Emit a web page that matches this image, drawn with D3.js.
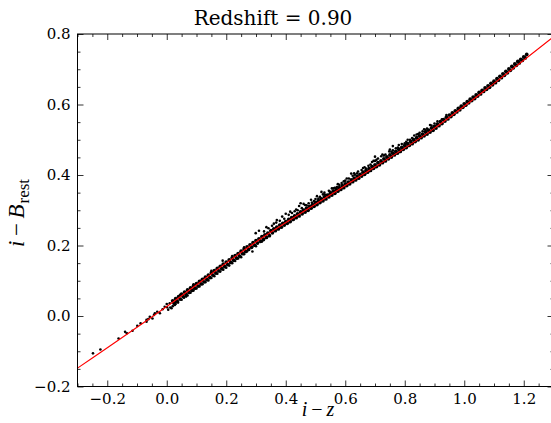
<!DOCTYPE html>
<html><head><meta charset="utf-8">
<script src="https://cdn.jsdelivr.net/npm/d3@7"></script>
<style>html,body{margin:0;padding:0;background:#fff;}svg{display:block;}</style>
</head><body>
<svg id="chart" width="551" height="423"></svg>
<script>
const titleText = "Redshift = 0.90";
const xMajorTicks = [-0.2, 0.0, 0.2, 0.4, 0.6, 0.8, 1.0, 1.2];
const xTickLabels = ["\u22120.2", "0.0", "0.2", "0.4", "0.6", "0.8", "1.0", "1.2"];
const yMajorTicks = [-0.2, 0.0, 0.2, 0.4, 0.6, 0.8];
const yTickLabels = ["\u22120.2", "0.0", "0.2", "0.4", "0.6", "0.8"];
const xMinorTicks = [-0.3,-0.25,-0.15,-0.1,-0.05,0.05,0.1,0.15,0.25,0.3,0.35,0.45,0.5,0.55,0.65,0.7,0.75,0.85,0.9,0.95,1.05,1.1,1.15,1.25,1.3];
const yMinorTicks = [-0.15,-0.1,-0.05,0.05,0.1,0.15,0.25,0.3,0.35,0.45,0.5,0.55,0.65,0.7,0.75];

// red fitted line
const fitX = [-0.3, 0.0, 0.3, 0.6, 0.9, 1.1, 1.3];
const fitY = [-0.148, 0.027, 0.210, 0.370, 0.533, 0.660, 0.792];

// sparse points at negative i-z
const tailPts = [[-0.248,-0.106],[-0.223,-0.095],[-0.162,-0.064],[-0.14,-0.045],[-0.134,-0.049],[-0.115,-0.042],[-0.099,-0.028],[-0.088,-0.021],[-0.068,-0.011],[-0.068,-0.016],[-0.062,-0.009],[-0.057,-0.002],[-0.048,-0.007],[-0.043,0.003],[-0.04,0.008],[-0.032,0.012],[-0.023,0.008],[-0.014,0.019],[-0.007,0.026],[0.001,0.025],[0.0,0.034],[0.01,0.036],[0.016,0.022],[0.021,0.041],[0.027,0.031]];

// dense band, upper edge
const bandUpper = [[0.02,0.043],[0.03,0.049],[0.04,0.055],[0.05,0.062],[0.06,0.068],[0.07,0.074],[0.08,0.080],[0.09,0.086],[0.10,0.092],[0.11,0.098],[0.12,0.104],[0.13,0.110],[0.14,0.116],[0.15,0.123],[0.16,0.129],[0.17,0.135],[0.18,0.141],[0.19,0.147],[0.20,0.153],[0.21,0.159],[0.22,0.165],[0.23,0.171],[0.24,0.177],[0.25,0.184],[0.26,0.190],[0.27,0.196],[0.28,0.202],[0.29,0.208],[0.30,0.214],[0.31,0.219],[0.32,0.225],[0.33,0.230],[0.34,0.235],[0.35,0.242],[0.36,0.247],[0.37,0.252],[0.38,0.258],[0.39,0.263],[0.40,0.268],[0.41,0.274],[0.42,0.279],[0.43,0.284],[0.44,0.290],[0.45,0.295],[0.46,0.300],[0.47,0.306],[0.48,0.311],[0.49,0.316],[0.50,0.322],[0.51,0.327],[0.52,0.332],[0.53,0.338],[0.54,0.343],[0.55,0.348],[0.56,0.354],[0.57,0.359],[0.58,0.364],[0.59,0.370],[0.60,0.375],[0.61,0.380],[0.62,0.386],[0.63,0.391],[0.64,0.397],[0.65,0.402],[0.66,0.408],[0.67,0.413],[0.68,0.418],[0.69,0.424],[0.70,0.429],[0.71,0.435],[0.72,0.440],[0.73,0.446],[0.74,0.451],[0.75,0.457],[0.76,0.462],[0.77,0.467],[0.78,0.473],[0.79,0.478],[0.80,0.484],[0.81,0.489],[0.82,0.495],[0.83,0.500],[0.84,0.506],[0.85,0.511],[0.86,0.516],[0.87,0.522],[0.88,0.527],[0.89,0.533],[0.90,0.538],[0.91,0.544],[0.92,0.551],[0.93,0.557],[0.94,0.564],[0.95,0.570],[0.96,0.576],[0.97,0.582],[0.98,0.589],[0.99,0.595],[1.00,0.602],[1.01,0.608],[1.02,0.615],[1.03,0.621],[1.04,0.627],[1.05,0.634],[1.06,0.640],[1.07,0.647],[1.08,0.653],[1.09,0.660],[1.10,0.666],[1.11,0.673],[1.12,0.680],[1.13,0.687],[1.14,0.694],[1.15,0.701],[1.16,0.708],[1.17,0.715],[1.18,0.722],[1.19,0.728],[1.20,0.735],[1.21,0.742]];

// dense band, lower edge
const bandLower = [[0.025,0.036],[0.035,0.042],[0.045,0.048],[0.055,0.055],[0.065,0.061],[0.075,0.067],[0.085,0.073],[0.095,0.079],[0.105,0.085],[0.115,0.091],[0.125,0.097],[0.135,0.103],[0.145,0.109],[0.155,0.116],[0.165,0.122],[0.175,0.128],[0.185,0.134],[0.195,0.140],[0.205,0.146],[0.215,0.152],[0.225,0.158],[0.235,0.164],[0.245,0.170],[0.255,0.177],[0.265,0.183],[0.275,0.189],[0.285,0.195],[0.295,0.201],[0.305,0.207],[0.315,0.212],[0.325,0.217],[0.335,0.223],[0.345,0.228],[0.355,0.236],[0.365,0.242],[0.375,0.247],[0.385,0.252],[0.395,0.258],[0.405,0.263],[0.415,0.268],[0.425,0.274],[0.435,0.279],[0.445,0.284],[0.455,0.290],[0.465,0.295],[0.475,0.300],[0.485,0.306],[0.495,0.311],[0.505,0.316],[0.515,0.322],[0.525,0.327],[0.535,0.332],[0.545,0.338],[0.555,0.343],[0.565,0.348],[0.575,0.354],[0.585,0.359],[0.595,0.364],[0.605,0.370],[0.615,0.375],[0.625,0.381],[0.635,0.386],[0.645,0.391],[0.655,0.397],[0.665,0.402],[0.675,0.408],[0.685,0.413],[0.695,0.419],[0.705,0.424],[0.715,0.429],[0.725,0.435],[0.735,0.440],[0.745,0.446],[0.755,0.451],[0.765,0.457],[0.775,0.462],[0.785,0.467],[0.795,0.473],[0.805,0.478],[0.815,0.484],[0.825,0.489],[0.835,0.495],[0.845,0.500],[0.855,0.506],[0.865,0.511],[0.875,0.516],[0.885,0.522],[0.895,0.527],[0.905,0.533],[0.915,0.540],[0.925,0.546],[0.935,0.553],[0.945,0.559],[0.955,0.566],[0.965,0.572],[0.975,0.579],[0.985,0.585],[0.995,0.592],[1.005,0.598],[1.015,0.605],[1.025,0.611],[1.035,0.617],[1.045,0.624],[1.055,0.630],[1.065,0.637],[1.075,0.643],[1.085,0.649],[1.095,0.656],[1.105,0.662],[1.115,0.669],[1.125,0.676],[1.135,0.683],[1.145,0.690],[1.155,0.697],[1.165,0.704],[1.175,0.711],[1.185,0.718],[1.195,0.725],[1.205,0.732]];

// scatter below the band at low i-z
const belowPts = [[0.005,0.018],[0.012,0.024],[0.02,0.028],[0.03,0.034],[0.038,0.038],[0.05,0.046],[0.058,0.052],[0.07,0.058],[0.08,0.066],[0.09,0.072],[0.1,0.078],[0.11,0.084],[0.12,0.09],[0.13,0.096],[0.14,0.101],[0.15,0.108],[0.16,0.113],[0.17,0.12],[0.18,0.126],[0.19,0.131],[0.2,0.137],[0.21,0.143],[0.22,0.15],[0.23,0.156],[0.24,0.163],[0.25,0.167],[0.26,0.175],[0.27,0.183],[0.288,0.183],[0.3,0.198],[0.32,0.211],[0.03,0.040],[0.065,0.055]];

// scatter above the band at low i-z
const abovePts = [[0.045,0.06],[0.09,0.09],[0.15,0.128],[0.188,0.157],[0.22,0.17],[0.26,0.195]];

// upper branch
const upperBranch = [[0.299,0.235],[0.327,0.24],[0.342,0.249],[0.354,0.256],[0.368,0.265],[0.38,0.27],[0.388,0.282],[0.41,0.287],[0.421,0.292],[0.435,0.302],[0.454,0.306],[0.465,0.315],[0.477,0.32],[0.488,0.322],[0.5,0.332],[0.515,0.338],[0.532,0.344],[0.545,0.355],[0.56,0.362],[0.572,0.366],[0.588,0.377],[0.6,0.384],[0.612,0.39],[0.632,0.401],[0.643,0.41],[0.655,0.414],[0.665,0.422],[0.678,0.426],[0.69,0.437],[0.7,0.44],[0.71,0.447],[0.721,0.453],[0.735,0.458],[0.748,0.467],[0.76,0.47],[0.777,0.478],[0.79,0.488],[0.805,0.494],[0.818,0.5],[0.832,0.512],[0.845,0.516],[0.86,0.524],[0.875,0.532],[0.89,0.54],[0.91,0.552],[0.925,0.558],[0.94,0.57],[0.45,0.32],[0.52,0.352],[0.62,0.404],[0.7,0.452],[0.76,0.482],
  [0.36,0.262],[0.395,0.276],[0.43,0.297],[0.44,0.3],[0.47,0.314],[0.495,0.326],[0.51,0.333],[0.525,0.345],[0.55,0.352],[0.565,0.364],[0.58,0.372],[0.595,0.382],[0.625,0.398],[0.64,0.405],[0.67,0.418],[0.685,0.43],[0.705,0.443],[0.73,0.455],[0.755,0.466],[0.77,0.476],[0.8,0.49],[0.825,0.505],[0.85,0.52],[0.87,0.528],[0.9,0.546],
  [0.31,0.242],[0.335,0.252],[0.37,0.272],[0.4,0.29],[0.415,0.296],[0.445,0.312],[0.46,0.318],[0.485,0.33],[0.505,0.34],[0.53,0.35],[0.555,0.362],[0.575,0.374],[0.605,0.39],[0.63,0.405],[0.66,0.42],[0.695,0.44],[0.725,0.458],[0.75,0.472],[0.78,0.485],[0.81,0.5],[0.84,0.515],[0.865,0.53],[0.885,0.542]];

const svg = d3.select("#chart");
const L = 77.5, R = 553.5, T = 34, B = 386.5;
const x = d3.scaleLinear().domain([-0.3, 1.3]).range([L, R]);
const y = d3.scaleLinear().domain([-0.2, 0.8]).range([B, T]);
const serif = "'DejaVu Serif'";
const mathFont = "'Liberation Serif'";

svg.append("defs").append("clipPath").attr("id","clip")
  .append("rect").attr("x",L).attr("y",T).attr("width",R-L).attr("height",B-T);

const plot = svg.append("g").attr("clip-path","url(#clip)");
const sparse = [].concat(tailPts, belowPts, abovePts, upperBranch);
const dense = [].concat(bandLower, bandUpper);
plot.selectAll("circle.dn").data(dense).join("circle")
  .attr("class","dn").attr("cx", d => x(d[0])).attr("cy", d => y(d[1]))
  .attr("r", 1.9).attr("fill", "#000");
plot.selectAll("circle.sp").data(sparse).join("circle")
  .attr("class","sp").attr("cx", d => x(d[0])).attr("cy", d => y(d[1]))
  .attr("r", 1.3).attr("fill", "#000");

const fit = fitX.map((v,i)=>[v, fitY[i]]);
plot.append("path").datum(fit)
  .attr("d", d3.line().x(d=>x(d[0])).y(d=>y(d[1])).curve(d3.curveMonotoneX))
  .attr("fill","none").attr("stroke","#ff0000").attr("stroke-width",1.1);

// axes (ticks inward)
function addAxis(gen, tr) {
  const g = svg.append("g").attr("transform", tr).call(gen)
    .attr("font-family", serif).attr("font-size", 15);
  g.select(".domain").remove();
  g.selectAll("line").attr("stroke","#000").attr("stroke-width",0.8);
  return g;
}
const fmtX = d => xTickLabels[xMajorTicks.indexOf(d)];
const fmtY = d => yTickLabels[yMajorTicks.indexOf(d)];
const bx = addAxis(d3.axisBottom(x).tickValues(xMajorTicks).tickFormat(fmtX).tickSize(-6).tickPadding(7), `translate(0,${B})`);
addAxis(d3.axisBottom(x).tickValues(xMinorTicks).tickFormat("").tickSize(-3), `translate(0,${B})`);
addAxis(d3.axisTop(x).tickValues(xMajorTicks).tickFormat("").tickSize(-6), `translate(0,${T})`);
addAxis(d3.axisTop(x).tickValues(xMinorTicks).tickFormat("").tickSize(-3), `translate(0,${T})`);
const ly = addAxis(d3.axisLeft(y).tickValues(yMajorTicks).tickFormat(fmtY).tickSize(-6).tickPadding(7), `translate(${L},0)`);
addAxis(d3.axisLeft(y).tickValues(yMinorTicks).tickFormat("").tickSize(-3), `translate(${L},0)`);
addAxis(d3.axisRight(y).tickValues(yMajorTicks).tickFormat("").tickSize(-6), `translate(${R},0)`);
addAxis(d3.axisRight(y).tickValues(yMinorTicks).tickFormat("").tickSize(-3), `translate(${R},0)`);
svg.selectAll(".tick text").attr("font-family", serif).attr("font-size", 15).attr("fill","#000");
bx.selectAll("text").attr("y", 7).attr("dy","0.71em");
ly.selectAll("text").attr("x",-7);

svg.append("rect").attr("x",L).attr("y",T).attr("width",R-L).attr("height",B-T)
  .attr("fill","none").attr("stroke","#000").attr("stroke-width",1);

// title
svg.append("text").attr("x",273).attr("y",25).attr("text-anchor","middle")
  .attr("font-family",serif).attr("font-size",20).attr("fill","#000").text(titleText);

// x label
const xl = svg.append("text").attr("x",318).attr("y",416).attr("text-anchor","middle")
  .attr("font-family",mathFont).attr("font-size",20).attr("fill","#000");
xl.append("tspan").attr("font-style","italic").text("i");
xl.append("tspan").text("\u2009\u2212\u2009");
xl.append("tspan").attr("font-style","italic").text("z");

// y label
const yl = svg.append("text").attr("transform",`translate(24,213) rotate(-90)`)
  .attr("text-anchor","middle").attr("font-family",mathFont)
  .attr("font-size",23).attr("fill","#000");
yl.append("tspan").attr("font-style","italic").text("i");
yl.append("tspan").text("\u2009\u2212\u2009");
yl.append("tspan").attr("font-style","italic").text("B");
yl.append("tspan").attr("font-size",17).attr("dy",5).attr("dx",1).text("rest");
</script>
</body></html>
